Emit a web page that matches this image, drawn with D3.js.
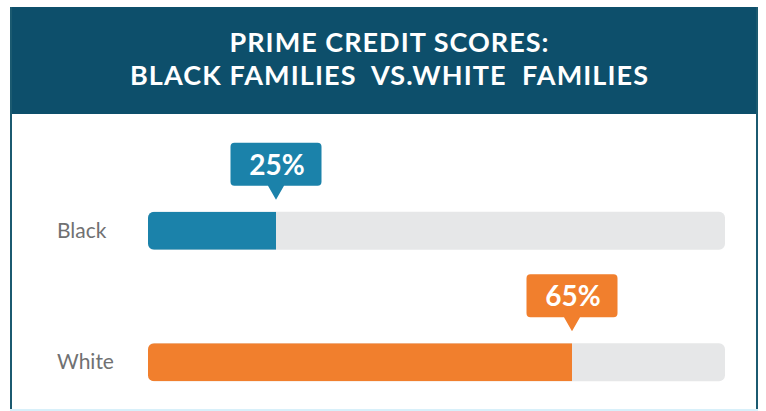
<!DOCTYPE html>
<html>
<head>
<meta charset="utf-8">
<script src="https://cdn.jsdelivr.net/npm/d3@7"></script>
<style>
  html, body { margin: 0; padding: 0; background: #ffffff; }
  svg { display: block; }
</style>
</head>
<body>
<svg id="chart" width="766" height="411"></svg>
<script>
// ---- data ----
const titleLines = ["PRIME CREDIT SCORES:", "BLACK FAMILIES  VS.WHITE  FAMILIES"];
const categories = ["Black", "White"];
const values = [25, 65];
const valueLabels = ["25%", "65%"];
const barColors = ["#1b82aa", "#f17f2d"];

// ---- layout ----
const svg = d3.select("#chart");

// frame
svg.append("rect").attr("x", 10).attr("y", 7).attr("width", 747).attr("height", 403)
  .attr("fill", "#ffffff");
svg.append("rect").attr("x", 10).attr("y", 7).attr("width", 747).attr("height", 107)
  .attr("fill", "#0d4f6b");
svg.append("line").attr("x1", 11).attr("x2", 11).attr("y1", 7).attr("y2", 410)
  .attr("stroke", "#1b5a70").attr("stroke-width", 2);
svg.append("line").attr("x1", 757).attr("x2", 757).attr("y1", 7).attr("y2", 410)
  .attr("stroke", "#1b5a70").attr("stroke-width", 2);
svg.append("line").attr("x1", 10).attr("x2", 758).attr("y1", 410).attr("y2", 410)
  .attr("stroke", "#d8f0fa").attr("stroke-width", 2);

// title
const titleWidths = [319, 518];
svg.selectAll("text.title").data(titleLines).join("text")
  .attr("class", "title")
  .attr("x", 389)
  .attr("y", (d, i) => 52 + i * 33)
  .attr("text-anchor", "middle")
  .attr("fill", "#ffffff")
  .attr("font-family", "Lato, 'Open Sans', sans-serif")
  .attr("font-weight", 700)
  .attr("font-size", 27)
  .attr("textLength", (d, i) => titleWidths[i])
  .attr("lengthAdjust", "spacing")
  .style("white-space", "pre")
  .text(d => d);

// scales (the original graphic is not drawn to a zero-based scale;
// this linear mapping reproduces its bar ends, fills are clipped to the track)
const trackX0 = 148, trackX1 = 725;
const x = d3.scaleLinear().domain([0, 100]).range([91, 831]);
const y = d3.scaleBand().domain(categories).range([165, 428]);
const barH = 38;

const data = categories.map((c, i) => ({ cat: c, v: values[i], label: valueLabels[i], color: barColors[i] }));

const defs = svg.append("defs");
data.forEach((d, i) => {
  defs.append("clipPath").attr("id", "clip" + i)
    .append("rect")
    .attr("x", trackX0).attr("width", trackX1 - trackX0)
    .attr("y", y(d.cat) + y.bandwidth() / 2 - barH / 2)
    .attr("height", barH).attr("rx", 6);
});

const g = svg.selectAll("g.row").data(data).join("g").attr("class", "row");

// track
g.append("rect")
  .attr("x", trackX0).attr("width", trackX1 - trackX0)
  .attr("y", d => y(d.cat) + y.bandwidth() / 2 - barH / 2)
  .attr("height", barH).attr("rx", 6)
  .attr("fill", "#e6e7e8");

// fill
g.append("rect")
  .attr("clip-path", (d, i) => `url(#clip${i})`)
  .attr("x", x(0)).attr("width", d => x(d.v) - x(0))
  .attr("y", d => y(d.cat) + y.bandwidth() / 2 - barH / 2)
  .attr("height", barH)
  .attr("fill", d => d.color);

// category labels
g.append("text")
  .attr("x", 57)
  .attr("y", d => y(d.cat) + y.bandwidth() / 2 + 7)
  .attr("fill", "#707172")
  .attr("font-family", "Lato, 'Open Sans', sans-serif")
  .attr("font-size", 21)
  .text(d => d.cat);

// callouts
const boxW = 91, boxH = 43, gap = 26;
g.append("path")
  .attr("fill", d => d.color)
  .attr("d", d => {
    const cx = x(d.v);
    const top = y(d.cat) + y.bandwidth() / 2 - barH / 2 - gap - boxH;
    const p = d3.path();
    const r = 4, l = cx - boxW / 2, rr = cx + boxW / 2, b = top + boxH;
    p.moveTo(l + r, top);
    p.lineTo(rr - r, top); p.quadraticCurveTo(rr, top, rr, top + r);
    p.lineTo(rr, b - r); p.quadraticCurveTo(rr, b, rr - r, b);
    p.lineTo(cx + 8, b); p.lineTo(cx, b + 14); p.lineTo(cx - 8, b);
    p.lineTo(l + r, b); p.quadraticCurveTo(l, b, l, b - r);
    p.lineTo(l, top + r); p.quadraticCurveTo(l, top, l + r, top);
    p.closePath();
    return p.toString();
  });

g.append("text")
  .attr("x", d => x(d.v) + 1)
  .attr("y", d => y(d.cat) + y.bandwidth() / 2 - barH / 2 - gap - boxH + 32)
  .attr("text-anchor", "middle")
  .attr("fill", "#ffffff")
  .attr("font-family", "Lato, 'Open Sans', sans-serif")
  .attr("font-weight", 700)
  .attr("font-size", 28)
  .text(d => d.label);
</script>
</body>
</html>
